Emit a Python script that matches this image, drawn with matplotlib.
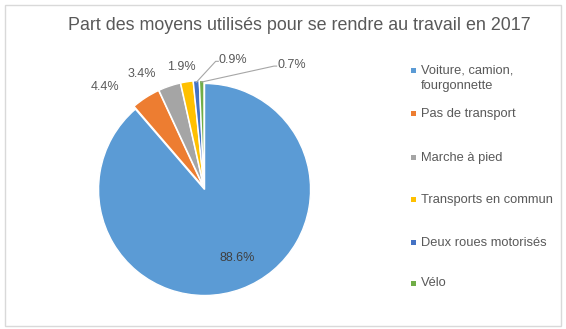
import numpy as np
import matplotlib.pyplot as plt
from matplotlib.patches import Rectangle

plt.rcParams['font.family'] = ['Liberation Sans', 'DejaVu Sans']

title = "Part des moyens utilisés pour se rendre au travail en 2017"
labels = ["Voiture, camion,\nfourgonnette", "Pas de transport", "Marche à pied",
          "Transports en commun", "Deux roues motorisés", "Vélo"]
values = [88.6, 4.4, 3.4, 1.9, 0.9, 0.7]
colors = ['#5B9BD5', '#ED7D31', '#A5A5A5', '#FFC000', '#4472C4', '#70AD47']

# where each percentage label sits (data units, pie radius = 1)
label_pos = [(0.31, -0.66), (-0.93, 0.95), (-0.59, 1.075), (-0.21, 1.14),
             (0.14, 1.205), (0.69, 1.16)]
leader = [False, False, False, False, True, True]

W, H = 566, 329
fig = plt.figure(figsize=(W / 100, H / 100), dpi=100)
txt = '#595959'

# outer frame
fig.patches.append(Rectangle((5 / W, 3 / H), 556 / W, 321 / H, transform=fig.transFigure,
                             fill=False, edgecolor='#D9D9D9', linewidth=1))

fig.text(299 / W, 1 - 25 / H, title, ha='center', va='center', fontsize=12.9, color=txt)

# pie axes: center at (204, 188) px, radius 107 px
cx, cy, R, half = 204, 188, 106, 140
ax = fig.add_axes([(cx - half) / W, (H - cy - half) / H, 2 * half / W, 2 * half / H])
wedges, _ = ax.pie(values, colors=colors, startangle=90, counterclock=False,
                   explode=[0.015] * len(values),
                   wedgeprops=dict(edgecolor='white', linewidth=1.0))
ax.set_xlim(-half / R, half / R)
ax.set_ylim(-half / R, half / R)
ax.set_aspect('equal')
ax.axis('off')

for w, v, (lx, ly), ld in zip(wedges, values, label_pos, leader):
    if ld:
        th = np.deg2rad((w.theta1 + w.theta2) / 2)
        x0, y0 = 1.0 * np.cos(th), 1.0 * np.sin(th)
        ax.plot([x0, lx - 0.03, lx - 0.005], [y0, ly - 0.01, ly - 0.01],
                color='#A6A6A6', linewidth=0.8, clip_on=False)
        ax.text(lx, ly, f"{v}%", ha='left', va='center', fontsize=9, color=txt)
    else:
        c = '#404040' if v > 50 else txt
        ax.text(lx, ly, f"{v}%", ha='center', va='center', fontsize=9, color=c)

# legend
rows = [70, 113, 157, 199, 242, 283]
for lab, col, y in zip(labels, colors, rows):
    fig.patches.append(Rectangle((411 / W, 1 - (y + 2.5) / H), 5 / W, 5 / H,
                                 transform=fig.transFigure, facecolor=col, edgecolor='none'))
    fig.text(421 / W, 1 - (y - 5.5) / H, lab, ha='left', va='top', fontsize=9.3,
             color=txt, linespacing=1.35)

fig.savefig('out.png', dpi=100)
